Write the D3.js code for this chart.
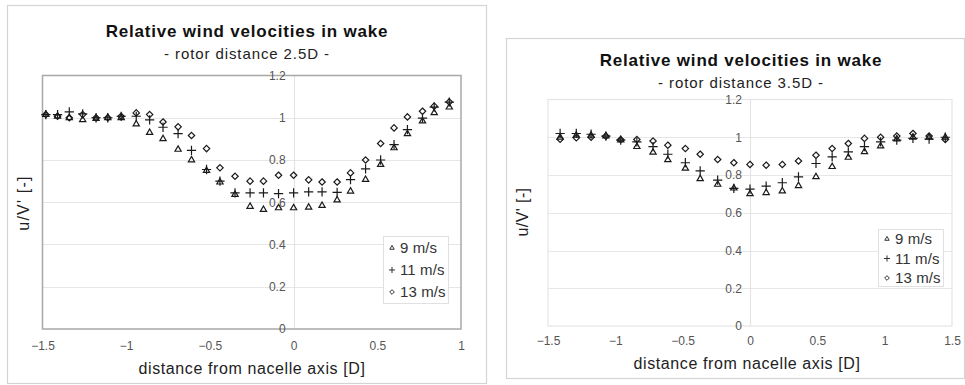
<!DOCTYPE html>
<html>
<head>
<meta charset="utf-8">
<script src="https://cdn.jsdelivr.net/npm/d3@7/dist/d3.min.js"></script>
<style>
  html, body { margin: 0; padding: 0; background: #fff; }
  svg { display: block; }
  text { font-family: "Liberation Sans", Arial, sans-serif; }
</style>
</head>
<body>
<svg id="chart" width="965" height="385"></svg>
<script>
// Lateral traverse positions (fraction of rotor diameter D)
const xNear = [-1.48, -1.41, -1.34, -1.26, -1.18, -1.11, -1.03, -0.94, -0.86, -0.78,
               -0.69, -0.61, -0.52, -0.44, -0.35, -0.26, -0.18, -0.09, 0.00, 0.09,
               0.17, 0.26, 0.34, 0.43, 0.52, 0.60, 0.68, 0.77, 0.84, 0.93];
// u/V' at 2.5D behind the rotor
const near9  = [1.015, 1.007, 1.00, 0.99, 0.996, 1.00, 1.00, 0.97, 0.93, 0.90,
                0.85, 0.80, 0.75, 0.695, 0.636, 0.58, 0.565, 0.573, 0.573, 0.576,
                0.584, 0.61, 0.652, 0.707, 0.778, 0.857, 0.924, 0.984, 1.023, 1.05];
const near11 = [1.015, 1.015, 1.028, 1.018, 1.00, 1.00, 1.007, 1.007, 0.99, 0.955,
                0.925, 0.846, 0.755, 0.70, 0.644, 0.644, 0.644, 0.641, 0.644, 0.649,
                0.649, 0.647, 0.707, 0.758, 0.80, 0.873, 0.944, 0.998, 1.05, 1.074];
const near13 = [1.015, 1.007, 1.00, 1.015, 1.00, 1.00, 1.007, 1.023, 1.015, 0.98,
                0.957, 0.916, 0.854, 0.763, 0.723, 0.70, 0.70, 0.728, 0.728, 0.706,
                0.696, 0.696, 0.739, 0.80, 0.878, 0.952, 1.004, 1.031, 1.055, 1.075];

// u/V' at 3.5D behind the rotor
const xFar = [-1.41, -1.29, -1.18, -1.07, -0.96, -0.84, -0.72, -0.61, -0.48, -0.37,
              -0.24, -0.12, 0.00, 0.12, 0.24, 0.36, 0.49, 0.61, 0.73, 0.85,
              0.97, 1.09, 1.21, 1.33, 1.45];
const far9  = [1.00, 1.01, 1.01, 1.006, 0.985, 0.95, 0.92, 0.88, 0.835, 0.78,
               0.75, 0.73, 0.70, 0.706, 0.715, 0.743, 0.79, 0.844, 0.893, 0.923,
               0.953, 0.99, 1.00, 1.00, 1.00];
const far11 = [1.02, 1.02, 1.016, 1.006, 0.985, 0.976, 0.95, 0.91, 0.865, 0.822,
               0.773, 0.729, 0.725, 0.741, 0.759, 0.79, 0.861, 0.896, 0.923, 0.95,
               0.976, 0.985, 0.994, 0.99, 1.00];
const far13 = [0.99, 0.997, 1.00, 1.006, 0.988, 0.988, 0.98, 0.958, 0.94, 0.91,
               0.882, 0.865, 0.856, 0.852, 0.856, 0.874, 0.905, 0.94, 0.967, 0.994,
               1.00, 1.006, 1.02, 1.006, 0.988];

const seriesNames = ["9 m/s", "11 m/s", "13 m/s"];
const yTicks = [0, 0.2, 0.4, 0.6, 0.8, 1, 1.2];
const xTicksNear = [-1.5, -1, -0.5, 0, 0.5, 1];
const xTicksFar = [-1.5, -1, -0.5, 0, 0.5, 1, 1.5];
const titleText = "Relative wind velocities in wake";
const xTitle = "distance from nacelle axis [D]";
const yTitle = "u/V' [-]";

const svg = d3.select("#chart");

// one symbol type per wind speed: triangle, plus, diamond
const symbolTypes = [d3.symbolTriangle2, d3.symbolPlus, d3.symbolDiamond2];
const symbolSizes = [28, 30, 26];

function drawPanel(cfg) {
  const g = svg.append("g");

  // outer chart frame
  g.append("rect")
    .attr("x", cfg.frame[0] + 0.5).attr("y", cfg.frame[1] + 0.5)
    .attr("width", cfg.frame[2]).attr("height", cfg.frame[3])
    .attr("fill", "#fff").attr("stroke", "#d4d4d4").attr("stroke-width", 1.2);

  const x = d3.scaleLinear().domain(cfg.xDomain).range([cfg.plot.left, cfg.plot.right]);
  const y = d3.scaleLinear().domain([0, 1.2]).range([cfg.plot.bottom, cfg.plot.top]);

  // horizontal gridlines
  g.append("g").selectAll("line").data(yTicks.slice(1, -1)).join("line")
    .attr("x1", cfg.plot.left).attr("x2", cfg.plot.right)
    .attr("y1", d => Math.round(y(d)) + 0.5).attr("y2", d => Math.round(y(d)) + 0.5)
    .attr("stroke", "#e6e6e6").attr("stroke-width", 1.2);

  // vertical axis crossing at x = 0
  g.append("line")
    .attr("x1", Math.round(x(0)) + 0.5).attr("x2", Math.round(x(0)) + 0.5)
    .attr("y1", cfg.plot.top).attr("y2", cfg.plot.bottom)
    .attr("stroke", "#e3e3e3").attr("stroke-width", 1.2);

  // plot-area border
  g.append("rect")
    .attr("x", cfg.plot.left).attr("y", cfg.plot.top)
    .attr("width", cfg.plot.right - cfg.plot.left)
    .attr("height", cfg.plot.bottom - cfg.plot.top)
    .attr("fill", "none").attr("stroke", cfg.plotStroke).attr("stroke-width", cfg.plotStrokeW);

  // y tick labels sit beside the x = 0 axis
  const yAxis = d3.axisLeft(y).tickValues(yTicks).tickSize(0).tickPadding(8)
    .tickFormat(d => d3.format("~g")(d));
  const ya = g.append("g").attr("transform", `translate(${x(0)},0)`).call(yAxis);
  ya.select(".domain").remove();
  ya.selectAll("text").attr("font-size", 12).attr("fill", "#555")
    .attr("font-family", "Liberation Sans, Arial, sans-serif");

  // x tick labels along the bottom
  const xAxis = d3.axisBottom(x).tickValues(cfg.xTicks).tickSize(0).tickPadding(cfg.xPad)
    .tickFormat(d => d3.format("~g")(d));
  const xa = g.append("g").attr("transform", `translate(0,${cfg.plot.bottom})`).call(xAxis);
  xa.select(".domain").remove();
  xa.selectAll("text").attr("font-size", 12).attr("fill", "#555")
    .attr("font-family", "Liberation Sans, Arial, sans-serif");

  // measured points
  const series = [cfg.s9, cfg.s11, cfg.s13];
  series.forEach((vals, si) => {
    const sym = d3.symbol().type(symbolTypes[si]).size(symbolSizes[si]);
    g.append("g").selectAll("path").data(vals.map((v, i) => [cfg.xs[i], v])).join("path")
      .attr("transform", d => `translate(${x(d[0])},${y(d[1])})`)
      .attr("d", sym)
      .attr("fill", "none").attr("stroke", "#1a1a1a").attr("stroke-width", 1.2);
  });

  // titles
  g.append("text").attr("x", cfg.titleX).attr("y", cfg.titleY)
    .attr("text-anchor", "middle").attr("font-size", 17).attr("font-weight", "bold")
    .attr("letter-spacing", 0.8).attr("fill", "#111").text(titleText);
  g.append("text").attr("x", cfg.titleX).attr("y", cfg.titleY + 22)
    .attr("text-anchor", "middle").attr("font-size", 15).attr("letter-spacing", 0.9)
    .attr("fill", "#222").text(cfg.subtitle);
  g.append("text").attr("x", cfg.xTitleX).attr("y", cfg.xTitleY)
    .attr("text-anchor", "middle").attr("font-size", 16).attr("letter-spacing", 0.6)
    .attr("fill", "#222").text(xTitle);
  g.append("text")
    .attr("transform", `translate(${cfg.yTitleX},${cfg.yTitleY}) rotate(-90)`)
    .attr("text-anchor", "middle").attr("font-size", 16).attr("letter-spacing", cfg.yTitleLS)
    .attr("fill", "#222").text(yTitle);

  // legend
  const L = cfg.legend;
  g.append("rect").attr("x", L.x + 0.5).attr("y", L.y + 0.5).attr("width", L.w).attr("height", L.h)
    .attr("fill", "#fff").attr("stroke", "#e0e0e0");
  seriesNames.forEach((name, si) => {
    const cy = L.y + L.first + si * L.step;
    g.append("path")
      .attr("transform", `translate(${L.x + 9},${cy})`)
      .attr("d", d3.symbol().type(symbolTypes[si]).size(14)())
      .attr("fill", "none").attr("stroke", "#333").attr("stroke-width", 1);
    g.append("text").attr("x", L.x + 17).attr("y", cy + 5)
      .attr("font-size", 15).attr("letter-spacing", 0.1).attr("fill", "#333").text(name);
  });
}

drawPanel({
  frame: [7, 5, 479, 378],
  plot: { left: 42.5, right: 461, top: 75.5, bottom: 329 },
  plotStroke: "#a8a8a8", plotStrokeW: 1.5,
  xDomain: [-1.5, 1], xTicks: xTicksNear, xPad: 12,
  xs: xNear, s9: near9, s11: near11, s13: near13,
  subtitle: "- rotor distance 2.5D -",
  titleX: 247, titleY: 37,
  xTitleX: 252, xTitleY: 374,
  yTitleX: 29, yTitleY: 203, yTitleLS: 1.2,
  legend: { x: 383, y: 236, w: 65, h: 67, first: 12, step: 22 }
});

drawPanel({
  frame: [506, 38, 458, 340],
  plot: { left: 548, right: 952, top: 99.5, bottom: 326 },
  plotStroke: "#e4e4e4", plotStrokeW: 1.2,
  xDomain: [-1.5, 1.5], xTicks: xTicksFar, xPad: 10,
  xs: xFar, s9: far9, s11: far11, s13: far13,
  subtitle: "- rotor distance 3.5D -",
  titleX: 741, titleY: 66,
  xTitleX: 747, xTitleY: 369,
  yTitleX: 528, yTitleY: 212, yTitleLS: 0.4,
  legend: { x: 878, y: 229, w: 65, h: 57, first: 10, step: 19.5 }
});
</script>
</body>
</html>
